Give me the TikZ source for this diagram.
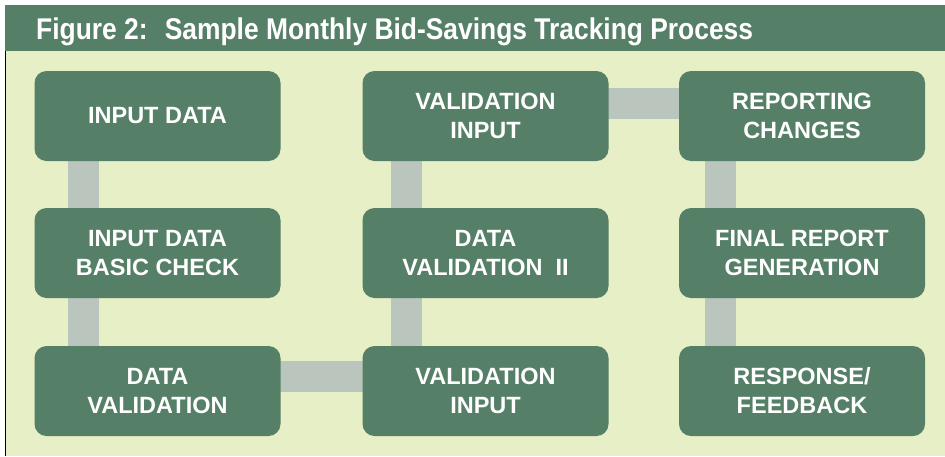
\documentclass[tikz,border=0pt]{standalone}
\usepackage{fontspec}
\setmainfont{Liberation Sans}
\newfontfamily\titlefont[FakeStretch=0.88]{Liberation Sans}
\usetikzlibrary{calc,backgrounds}
\definecolor{boxgreen}{RGB}{86,127,103}
\definecolor{bglight}{RGB}{230,239,197}
\definecolor{conngrey}{RGB}{186,197,189}
\tikzset{
  stepbox/.style={fill=boxgreen, rounded corners=12pt, minimum width=246pt, minimum height=90pt,
    inner sep=0pt, text=white, align=center, font=\bfseries\fontsize{23.5}{29}\selectfont},
  conn/.style={draw=conngrey, line width=31pt}
}
\begin{document}
\begin{tikzpicture}[x=1pt,y=-1pt]
\useasboundingbox (0,0) rectangle (945,456);
\begin{pgfonlayer}{background}
\fill[bglight] (5,51) rectangle (945,456);
\fill[boxgreen] (5,5) rectangle (945,51);
\draw[black, line width=1.3pt] (5.6,51) -- (5.6,456);
\end{pgfonlayer}
\node[anchor=base west, text=white, inner sep=0pt, font=\titlefont\bfseries\fontsize{30}{34}\selectfont] (title) at (36,39) {Figure 2:~ Sample Monthly Bid-Savings Tracking Process};
% boxes
\node[stepbox] (a1) at (157.5,116) {INPUT DATA};
\node[stepbox] (a2) at (157.5,253) {INPUT DATA\\BASIC CHECK};
\node[stepbox] (a3) at (157.5,391) {DATA\\VALIDATION};
\node[stepbox] (b3) at (485.5,391) {VALIDATION\\INPUT};
\node[stepbox] (b2) at (485.5,253) {DATA\\VALIDATION~ II};
\node[stepbox] (b1) at (485.5,116) {VALIDATION\\INPUT};
\node[stepbox] (c1) at (802,116) {REPORTING\\CHANGES};
\node[stepbox] (c2) at (802,253) {FINAL REPORT\\GENERATION};
\node[stepbox] (c3) at (802,391) {RESPONSE/\\FEEDBACK};
% connectors
\begin{pgfonlayer}{background}
\draw[conn] ($(a1.south west)+(49.5,-2)$) -- ($(a2.north west)+(49.5,2)$);
\draw[conn] ($(a2.south west)+(49.5,-2)$) -- ($(a3.north west)+(49.5,2)$);
\draw[conn] ($(a3.north east)+(-2,30.5)$) -- ($(b3.north west)+(2,30.5)$);
\draw[conn] ($(b3.north west)+(44.5,2)$) -- ($(b2.south west)+(44.5,-2)$);
\draw[conn] ($(b2.north west)+(44.5,2)$) -- ($(b1.south west)+(44.5,-2)$);
\draw[conn] ($(b1.north east)+(-2,33)$) -- ($(c1.north west)+(2,33)$);
\draw[conn] ($(c1.south west)+(41.5,-2)$) -- ($(c2.north west)+(41.5,2)$);
\draw[conn] ($(c2.south west)+(41.5,-2)$) -- ($(c3.north west)+(41.5,2)$);
\end{pgfonlayer}
\end{tikzpicture}
\end{document}
